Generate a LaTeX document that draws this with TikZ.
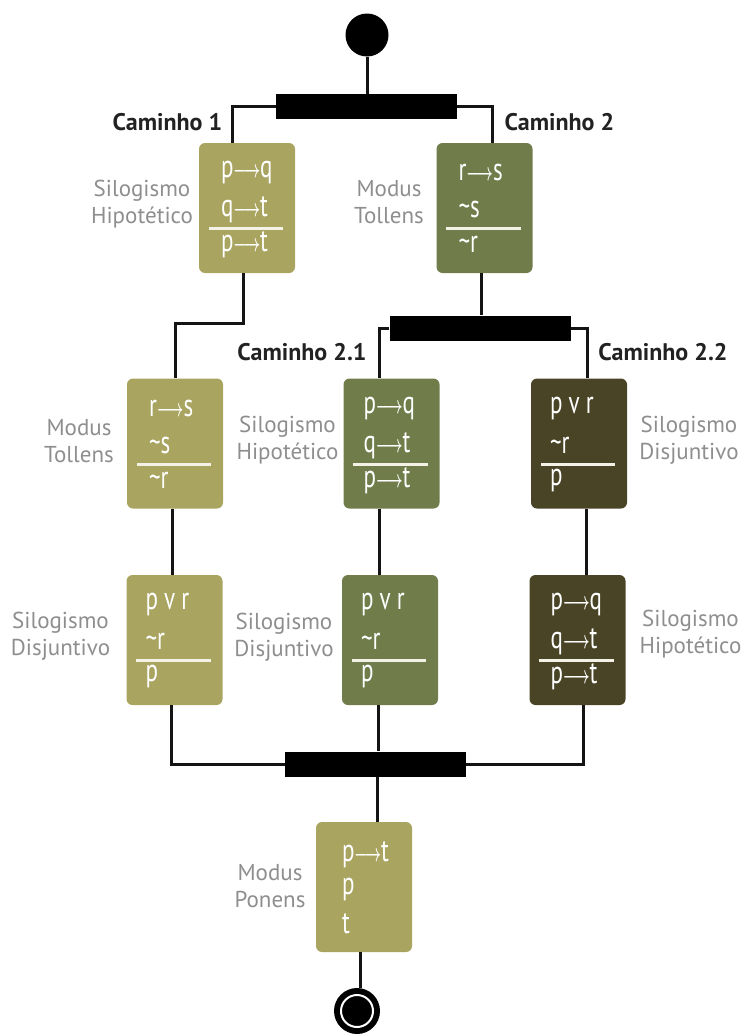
\documentclass[tikz,border=0pt]{standalone}
\usepackage{fontspec}
\setmainfont{PT Sans}
\newfontfamily\boxfont[FakeStretch=0.72]{PT Sans}
\usepackage{graphicx}
\usetikzlibrary{calc}
\definecolor{lightol}{HTML}{A9A460}
\definecolor{midol}{HTML}{707C4A}
\definecolor{darkol}{HTML}{4A4426}
\definecolor{labgray}{HTML}{8E8E8E}
\definecolor{capcol}{HTML}{222222}
\definecolor{rulecol}{HTML}{F4F2E6}
\newcommand\arr{\scalebox{0.58}[1]{$\boldsymbol{\longrightarrow}$}}
\usepackage{amsmath}
\newcommand\premthree[5]{%
  \node[prem] (#1-a) at ([shift={(#2,30)}]#1.north west) {#3};
  \node[prem] (#1-b) at ([shift={(#2,67)}]#1.north west) {#4};
  \draw[rulel] ([shift={(10,86)}]#1.north west) coordinate (#1-l) -- ([shift={(-12,86)}]#1.north east) coordinate (#1-r);
  \node[prem] (#1-c) at ([shift={(#2,102)}]#1.north west) {#5};
}
\begin{document}
\begin{tikzpicture}[x=1pt,y=-1pt,
  box/.style={rounded corners=6pt, minimum width=96pt, minimum height=130pt, inner sep=0pt},
  bar/.style={fill=black, inner sep=0pt, minimum width=181pt, minimum height=25pt},
  conn/.style={draw=black!92, line width=3pt},
  prem/.style={anchor=west, inner sep=0pt, text=white, font=\boxfont\fontsize{32}{32}\selectfont},
  rulel/.style={draw=rulecol, line width=3pt},
  lab/.style={text=labgray, align=center, inner sep=0pt, font=\fontsize{23}{27}\selectfont},
  cam/.style={text=capcol, inner sep=0pt, font=\bfseries\fontsize{24}{28}\selectfont}]
\useasboundingbox (0,0) rectangle (746,1036);

% boxes
\node[box, fill=lightol] (b1) at (247,208) {};
\node[box, fill=midol]   (b2) at (484.5,208) {};
\node[box, fill=lightol] (b3) at (175,443.5) {};
\node[box, fill=midol]   (b4) at (391.5,443.5) {};
\node[box, fill=darkol]  (b5) at (579,443.5) {};
\node[box, fill=lightol] (b6) at (174.5,640) {};
\node[box, fill=midol]   (b7) at (390,640) {};
\node[box, fill=darkol]  (b8) at (577.5,640) {};
\node[box, fill=lightol] (b9) at (364,887) {};

% bars and terminals
\node[bar] (j1) at (366.5,106.5) {};
\node[bar] (j2) at (480,328) {};
\node[bar] (j3) at (375.5,764) {};
\node[circle, fill=black, minimum size=43pt, inner sep=0pt] (start) at (367,35) {};
\node[circle, fill=black, minimum size=46pt, inner sep=0pt] (end) at (357,1011) {};
\node[circle, draw=white, line width=2pt, minimum size=32pt, inner sep=0pt] (endring) at (end.center) {};

% connectors
\draw[conn] (start.south) -- (start.south |- j1.north);
\draw[conn] (j1.west) -| ([xshift=-15pt]b1.north);
\draw[conn] (j1.east) -| ([xshift=7.5pt]b2.north);
\draw[conn] ([xshift=-4pt]b1.south) -- ++(0,50) -| (b3.north);
\draw[conn] ([xshift=-3.5pt]b2.south) -- ([xshift=-3.5pt]b2.south |- j2.north);
\draw[conn] (j2.west) -| ([xshift=-12.5pt]b4.north);
\draw[conn] (j2.east) -| ([xshift=8pt]b5.north);
\draw[conn] ([xshift=-3pt]b3.south) -- ([xshift=-3pt]b3.south |- b6.north);
\draw[conn] ([xshift=-12.5pt]b4.south) -- ([xshift=-12.5pt]b4.south |- b7.north);
\draw[conn] ([xshift=7pt]b5.south) -- ([xshift=7pt]b5.south |- b8.north);
\draw[conn] ([xshift=-3.5pt]b6.south) |- (j3.west);
\draw[conn] ([xshift=-12pt]b7.south) -- ([xshift=-12pt]b7.south |- j3.north);
\draw[conn] ([xshift=5.5pt]b8.south) |- (j3.east);
\draw[conn] ([xshift=13pt]b9.north |- j3.south) -- ([xshift=13pt]b9.north);
\draw[conn] ([xshift=-4pt]b9.south) -- ([xshift=-4pt]b9.south |- end.north);

% box contents
\premthree{b1}{22}{p\arr q}{q\arr t}{p\arr t}
\premthree{b2}{22}{r\arr s}{\textasciitilde s}{\textasciitilde r}
\premthree{b3}{22}{r\arr s}{\textasciitilde s}{\textasciitilde r}
\premthree{b4}{20}{p\arr q}{q\arr t}{p\arr t}
\premthree{b5}{19}{p v r}{\textasciitilde r}{p}
\premthree{b6}{19}{p v r}{\textasciitilde r}{p}
\premthree{b7}{19}{p v r}{\textasciitilde r}{p}
\premthree{b8}{21}{p\arr q}{q\arr t}{p\arr t}
\node[prem] (b9-a) at ([shift={(26,33)}]b9.north west) {p\arr t};
\node[prem] (b9-b) at ([shift={(26,68)}]b9.north west) {p};
\node[prem] (b9-c) at ([shift={(26,102)}]b9.north west) {t};

% rule labels
\node[lab] (l1) at (142,204) {Silogismo\\Hipotético};
\node[lab] (l2) at (389,202) {Modus\\Tollens};
\node[lab] (l3) at (79,441) {Modus\\Tollens};
\node[lab] (l4) at (287.5,440) {Silogismo\\Hipotético};
\node[lab] (l5) at (689,440) {Silogismo\\Disjuntivo};
\node[lab] (l6) at (60.5,636) {Silogismo\\Disjuntivo};
\node[lab] (l7) at (284,637) {Silogismo\\Disjuntivo};
\node[lab] (l8) at (690.5,634.5) {Silogismo\\Hipotético};
\node[lab] (l9) at (270,886) {Modus\\Ponens};

% path labels
\node[cam] (c1) at (167.5,122) {Caminho 1};
\node[cam] (c2) at (559.5,122) {Caminho 2};
\node[cam] (c21) at (302,352) {Caminho 2.1};
\node[cam] (c22) at (663,352) {Caminho 2.2};
\end{tikzpicture}
\end{document}
